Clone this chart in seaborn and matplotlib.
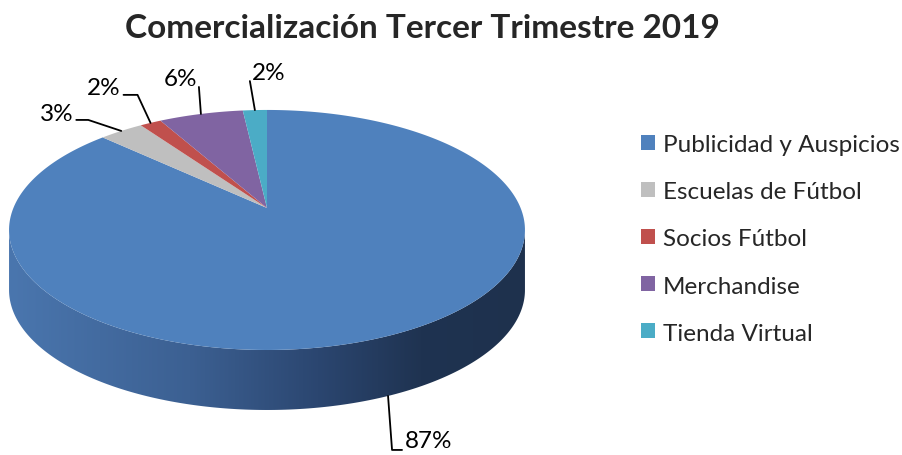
import numpy as np
import matplotlib
matplotlib.use("Agg")
import matplotlib.pyplot as plt
import seaborn as sns
from matplotlib.patches import Polygon
from matplotlib.path import Path
from matplotlib.transforms import Affine2D, Transform
from matplotlib.colors import LinearSegmentedColormap

categorias = ["Publicidad y Auspicios", "Escuelas de Fútbol", "Socios Fútbol",
              "Merchandise", "Tienda Virtual"]
valores = [87.0, 3.3, 1.6, 6.3, 1.8]
colores = ["#4F81BD", "#BFBFBF", "#C0504D", "#8064A2", "#4BACC6"]
titulo = "Comercialización Tercer Trimestre 2019"

sns.set_theme(style="white")
plt.rcParams["font.family"] = ["Lato", "DejaVu Sans"]

# geometria del pastel en pixeles (vista en perspectiva)
cx, cy = 267, 209
rx, ry = 253.6, 116
p = 0.183
depth = 60


def proyectar(u, v, dy=0.0):
    w = 1 + p * v
    return cx + rx * u / w, cy - ry * v / w + dy


class Perspectiva(Transform):
    input_dims = output_dims = 2

    def transform_non_affine(self, values):
        values = np.asarray(values, dtype=float)
        x, y = proyectar(values[:, 0], values[:, 1])
        return np.column_stack([x, y])

    def transform_path_non_affine(self, path):
        polys = path.to_polygons(transform=Affine2D().scale(1000), closed_only=False)
        verts = np.concatenate(polys) / 1000
        return Path(self.transform_non_affine(verts))


fig = plt.figure(figsize=(9.03, 4.56), dpi=100)
ax = fig.add_axes([0, 0, 1, 1])

wedges, _ = ax.pie(valores, colors=sns.color_palette(colores), startangle=90,
                   counterclock=False, wedgeprops=dict(linewidth=0))
persp = Perspectiva() + ax.transData
for w in wedges:
    w.set_transform(persp)
    w.set_zorder(3)

# lado frontal (solo se ve Publicidad) con degradado
t = np.linspace(np.pi + np.arcsin(p), 2 * np.pi - np.arcsin(p), 300)
xs, ys = proyectar(np.cos(t), np.sin(t))
lado = np.concatenate([np.column_stack([xs, ys]),
                       np.column_stack([xs[::-1], ys[::-1] + depth])])
clip = Polygon(lado, closed=True, facecolor="none", edgecolor="none")
ax.add_patch(clip)
cmap = LinearSegmentedColormap.from_list(
    "lado", [(0, "#4A76AE"), (0.35, "#3C6092"), (0.6, "#2B4670"),
             (0.8, "#1F3351"), (1, "#1E314D")])
img = ax.imshow(np.linspace(0, 1, 256)[None, :], cmap=cmap, aspect="auto",
                extent=(xs.min(), xs.max(), ys.max() + depth, ys.min()), zorder=2)
img.set_clip_path(clip)

# etiquetas con lineas guia: (codo dx, dy, fin dx, texto dx, dy, alineacion)
guias = [(4, 54, 14, 17, 45, "left"),
         (-33, -11, -45, -48, -17, "right"),
         (-13, -28, -27, -30, -35, "right"),
         (-2, -27, -2, -4, -35, "right"),
         (-5, -29, -5, -3, -38, "left")]
total = sum(valores)
ang = 90.0
for v, (ex, ey, hx, tx, ty, ha) in zip(valores, guias):
    span = v / total * 360
    mid = np.deg2rad(ang - span / 2)
    ang -= span
    px, py = proyectar(np.cos(mid), np.sin(mid))
    if np.sin(mid) < 0:
        py += depth
    ax.plot([px, px + ex, px + hx], [py, py + ey, py + ey], color="black", lw=1.3, zorder=4)
    ax.text(px + tx, py + ty, f"{v / total * 100:.0f}%", ha=ha, va="center",
            fontsize=17.5, color="black", zorder=5)

ax.text(422, 28, titulo, ha="center", va="center", fontsize=24, fontweight="bold")

ax.legend(wedges, categorias, loc="center left", bbox_to_anchor=(641 / 903, 1 - 240 / 456),
          frameon=False, fontsize=17.5, handlelength=0.58, handleheight=0.58,
          handletextpad=0.33, labelspacing=1.07, borderpad=0, borderaxespad=0)

ax.set_xlim(0, 903)
ax.set_ylim(456, 0)
ax.set_aspect("auto")
ax.axis("off")
fig.savefig("out.png", dpi=100)
